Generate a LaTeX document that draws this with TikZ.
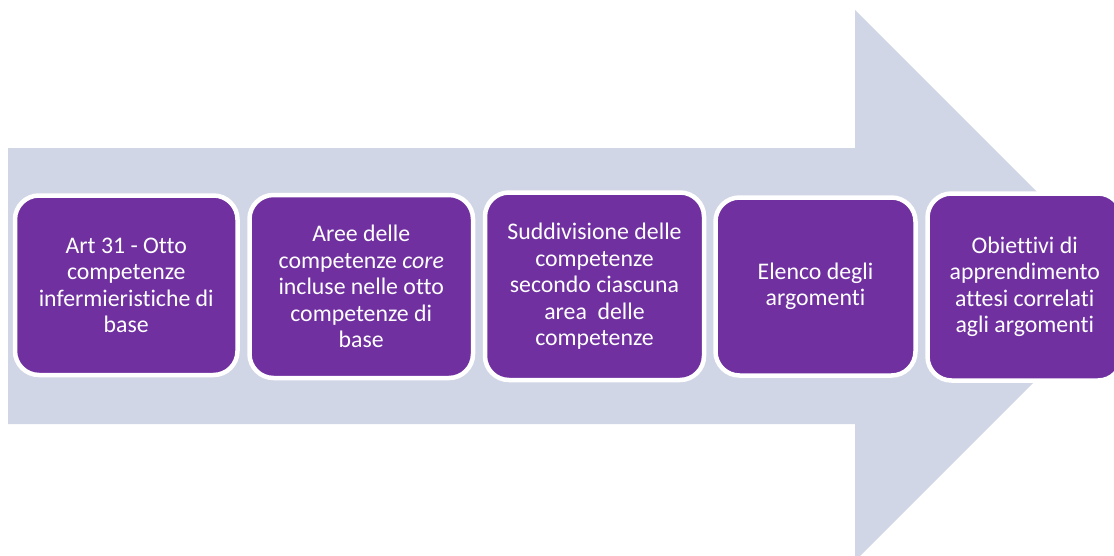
\documentclass[tikz,border=0pt]{standalone}
\usepackage{fontspec}
\setmainfont{Carlito}[Ligatures=NoCommon]
\definecolor{arrowfill}{RGB}{208,214,230}
\definecolor{boxpurple}{RGB}{112,48,160}
\begin{document}
\begin{tikzpicture}[x=1pt,y=-1pt,
  stepbox/.style={draw=white, line width=4.5pt, fill=boxpurple, rounded corners=24pt,
    inner sep=0pt, outer sep=0pt, text=white, align=center,
    font=\fontsize{23.8}{26.5}\selectfont}]
\useasboundingbox (0,0) rectangle (1114,555);
\clip (0,0) rectangle (1114,555);
\fill[arrowfill] (8,148) -- (855,148) -- (855,10) -- (1130.5,285.5) -- (855,561) -- (855,424) -- (8,424) -- cycle;
\node[stepbox, minimum width=222.5pt, minimum height=179.5pt] (b1) at (126.25,285.25)
  {Art 31 - Otto\\competenze\\infermieristiche di\\base};
\node[stepbox, minimum width=223.5pt, minimum height=183pt] (b2) at (361.25,286.5)
  {Aree delle\\competenze \textit{core}\\incluse nelle otto\\competenze di\\base};
\node[stepbox, minimum width=219pt, minimum height=187.5pt] (b3) at (594.5,286.25)
  {Suddivisione delle\\competenze\\secondo ciascuna\\area\ \ delle\\competenze};
\node[stepbox, minimum width=200pt, minimum height=178pt] (b4) at (815.5,286.5)
  {Elenco degli\\argomenti};
\node[stepbox, minimum width=194.5pt, minimum height=187pt] (b5) at (1024.75,287)
  {Obiettivi di\\apprendimento\\attesi correlati\\agli argomenti};
\end{tikzpicture}
\end{document}
